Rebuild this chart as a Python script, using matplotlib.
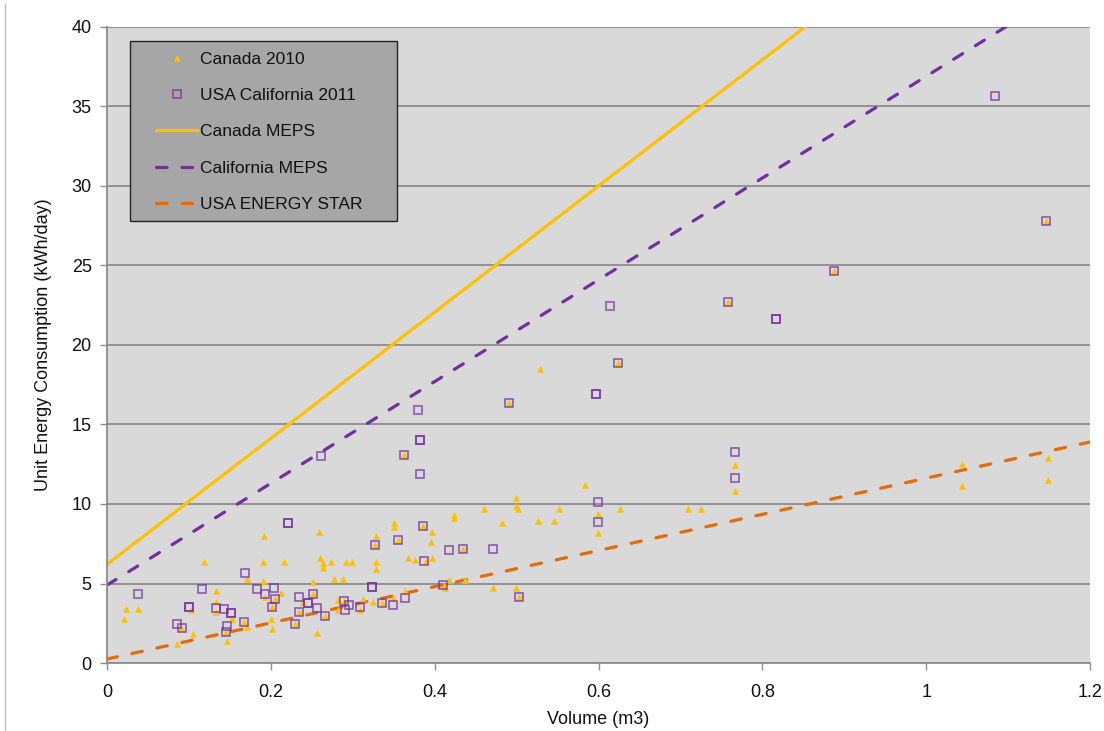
import matplotlib
matplotlib.use("Agg")
import matplotlib.pyplot as plt
from matplotlib.lines import Line2D
from matplotlib.patches import Rectangle
from matplotlib.ticker import FuncFormatter

plt.rcParams['font.family'] = ['Liberation Sans', 'DejaVu Sans']

# Canada 2010 survey: volume (m3) and unit energy consumption (kWh/day)
canada_vol = [0.021, 0.023, 0.038, 0.085, 0.090, 0.103, 0.105, 0.119, 0.133, 0.133,
              0.133, 0.146, 0.145, 0.152, 0.167, 0.171, 0.171, 0.191, 0.192, 0.191,
              0.193, 0.200, 0.201, 0.205, 0.201, 0.212, 0.216, 0.229, 0.234, 0.239,
              0.251, 0.251, 0.256, 0.259, 0.260, 0.264, 0.264, 0.266, 0.273, 0.277,
              0.288, 0.282, 0.282, 0.289, 0.292, 0.299, 0.309, 0.313, 0.325, 0.327,
              0.328, 0.328, 0.328, 0.336, 0.349, 0.350, 0.350, 0.355, 0.364, 0.362,
              0.368, 0.376, 0.386, 0.389, 0.396, 0.397, 0.397, 0.412, 0.413, 0.418,
              0.424, 0.424, 0.435, 0.437, 0.460, 0.471, 0.482, 0.491, 0.499, 0.499,
              0.502, 0.499, 0.503, 0.526, 0.528, 0.546, 0.552, 0.583, 0.599, 0.599,
              0.626, 0.624, 0.709, 0.725, 0.758, 0.767, 0.767, 0.888, 1.044, 1.044,
              1.146, 1.149, 1.149]
canada_uec = [2.75, 3.40, 3.40, 1.19, 2.18, 3.33, 1.80, 6.37, 4.55, 3.86,
              3.23, 1.38, 1.93, 2.77, 2.58, 5.28, 2.24, 6.35, 7.99, 5.16,
              4.17, 2.77, 2.12, 4.00, 3.50, 4.38, 6.35, 2.47, 3.21, 3.82,
              4.34, 5.09, 1.87, 8.22, 6.58, 6.27, 5.96, 2.94, 6.35, 5.26,
              5.26, 3.96, 3.33, 3.90, 6.35, 6.35, 3.33, 4.03, 3.84, 7.40,
              7.99, 6.35, 5.93, 3.77, 4.09, 8.82, 8.53, 7.76, 4.53, 13.06,
              6.60, 6.46, 8.60, 6.42, 7.59, 8.22, 6.60, 4.85, 4.72, 5.20,
              9.33, 9.10, 7.17, 5.20, 9.69, 4.70, 8.78, 16.33, 10.40, 9.85,
              9.69, 4.74, 4.13, 8.95, 18.49, 8.95, 9.69, 11.19, 9.39, 8.18,
              9.69, 18.89, 9.69, 9.69, 22.68, 12.43, 10.82, 24.65, 12.51, 11.13,
              27.78, 12.92, 11.51]

# USA California 2011 database
calif_vol = [0.038, 0.085, 0.091, 0.100, 0.100, 0.116, 0.133, 0.143, 0.145, 0.146,
             0.151, 0.151, 0.167, 0.169, 0.183, 0.193, 0.201, 0.204, 0.205, 0.221,
             0.221, 0.229, 0.234, 0.234, 0.245, 0.245, 0.251, 0.256, 0.261, 0.266,
             0.289, 0.290, 0.295, 0.309, 0.324, 0.324, 0.327, 0.336, 0.349, 0.355,
             0.362, 0.364, 0.380, 0.382, 0.382, 0.382, 0.386, 0.387, 0.410, 0.418,
             0.435, 0.471, 0.491, 0.503, 0.597, 0.597, 0.599, 0.599, 0.614, 0.624,
             0.758, 0.767, 0.767, 0.817, 0.817, 0.888, 1.084, 1.146]
calif_uec = [4.32, 2.43, 2.20, 3.54, 3.54, 4.64, 3.44, 3.40, 1.93, 2.33,
             3.17, 3.17, 2.58, 5.68, 4.64, 4.32, 3.54, 4.74, 4.00, 8.82,
             8.82, 2.47, 4.17, 3.21, 3.75, 3.75, 4.34, 3.48, 13.00, 2.94,
             3.90, 3.35, 3.67, 3.52, 4.78, 4.78, 7.40, 3.77, 3.67, 7.76,
             13.06, 4.07, 15.89, 14.04, 14.04, 11.89, 8.60, 6.42, 4.93, 7.13,
             7.17, 7.17, 16.33, 4.13, 16.90, 16.90, 10.11, 8.87, 22.45, 18.89,
             22.68, 13.25, 11.64, 21.64, 21.64, 24.65, 35.64, 27.78]

# Standard lines evaluated at the ends of the volume range
std_vol = [0.0, 1.2]
canada_meps = [6.2, 53.8]
california_meps = [4.9, 43.3]
energy_star = [0.25, 13.9]

x_ticks = [0, 0.2, 0.4, 0.6, 0.8, 1.0, 1.2]
y_ticks = [0, 5, 10, 15, 20, 25, 30, 35, 40]

YELLOW = '#FFC000'
PURPLE = '#7030A0'
ORANGE = '#E36C09'
GRID = '#8C8C8C'

W, H = 1104, 731
fig = plt.figure(figsize=(W / 100, H / 100), dpi=100)
fig.patch.set_facecolor('white')
ax = fig.add_axes([107 / W, 1 - 663 / H, (1090 - 107) / W, (663 - 27) / H])
ax.set_facecolor('#D9D9D9')

ax.set_xlim(0, 1.2)
ax.set_ylim(0, 40)
ax.set_xticks(x_ticks)
ax.set_yticks(y_ticks)
ax.xaxis.set_major_formatter(FuncFormatter(lambda v, p: f"{v:g}"))
ax.yaxis.set_major_formatter(FuncFormatter(lambda v, p: f"{v:g}"))
ax.tick_params(axis='both', direction='out', length=5, width=1, color=GRID,
               labelsize=13, labelcolor='#111111', pad=6)
ax.tick_params(axis='x', pad=10)

ax.set_axisbelow(True)
ax.yaxis.grid(True, color=GRID, linewidth=1.3)
ax.xaxis.grid(False)
for side in ('top', 'right'):
    ax.spines[side].set_visible(False)
for side in ('left', 'bottom'):
    ax.spines[side].set_color(GRID)
    ax.spines[side].set_linewidth(1.3)

lw = 2.3
dash = (3.3, 4.7)
ax.plot(canada_vol, canada_uec, linestyle='none', marker='^', markersize=4.2,
        color=YELLOW, markeredgewidth=0.4, zorder=3, label='Canada 2010')
ax.plot(calif_vol, calif_uec, linestyle='none', marker='s', markersize=6.3,
        markerfacecolor='none', markeredgecolor=PURPLE, markeredgewidth=1.2,
        alpha=0.75, zorder=3, label='USA California 2011')
ax.plot(std_vol, canada_meps, color=YELLOW, linewidth=lw, solid_capstyle='round',
        zorder=2, label='Canada MEPS')
ax.plot(std_vol, california_meps, color=PURPLE, linewidth=lw, dashes=dash,
        dash_capstyle='round', zorder=2, label='California MEPS')
ax.plot(std_vol, energy_star, color=ORANGE, linewidth=lw, dashes=dash,
        dash_capstyle='round', zorder=2, label='USA ENERGY STAR')

ax.set_xlabel('Volume (m3)', fontsize=13, color='#111111', labelpad=7)
ax.set_ylabel('Unit Energy Consumption (kWh/day)', fontsize=13, color='#111111',
              labelpad=14)

# Legend box drawn as a separate panel, entries placed on top of it
box = Rectangle((130 / W, 1 - 220.7 / H), (397 - 130) / W, (220.7 - 40.7) / H,
                transform=fig.transFigure, facecolor='#A6A6A6', edgecolor='#222222',
                linewidth=1.0, zorder=4)
ax.add_patch(box)
box.set_clip_on(False)

leg = ax.legend(loc='upper left', bbox_to_anchor=(147 / W, 1 - 43 / H),
                bbox_transform=fig.transFigure, frameon=False, fontsize=12.5,
                handlelength=2.45, handletextpad=0.1, labelspacing=1.22,
                borderpad=0.5, borderaxespad=0, markerscale=1.0)
leg.set_zorder(5)
for t in leg.get_texts():
    t.set_color('#111111')

# thin outer frame line on the left side of the figure
fig.add_artist(Line2D([5.5 / W, 5.5 / W], [0, 1 - 4 / H], transform=fig.transFigure,
                      color='#BFBFBF', linewidth=1.0))

fig.savefig('out.png', dpi=100)
